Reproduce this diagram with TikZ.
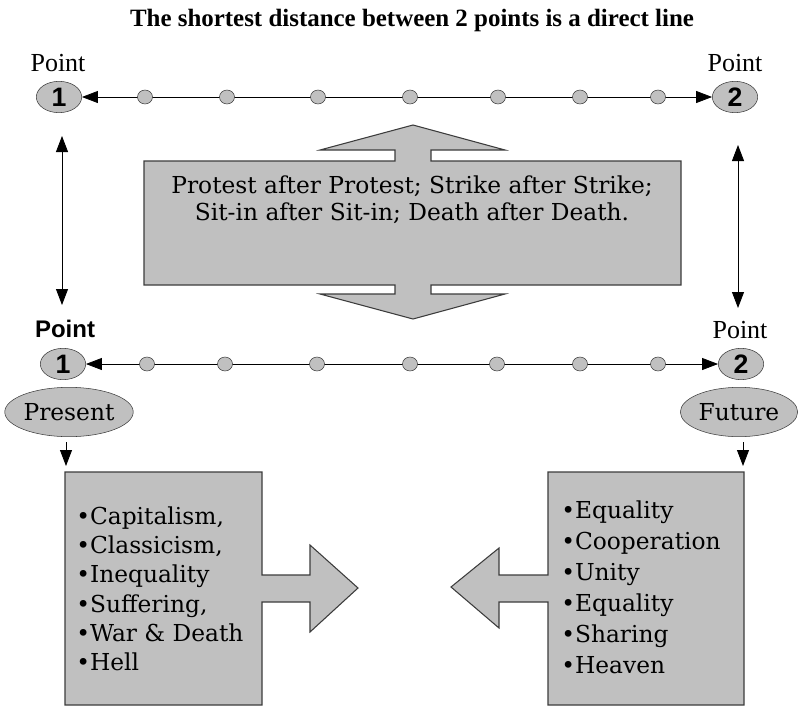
\documentclass[tikz,border=0pt]{standalone}
\usepackage{fontspec}
\setmainfont{Liberation Serif}
\newfontfamily\dvs{DejaVu Serif}
\newfontfamily\arl{Liberation Sans}
\usetikzlibrary{shapes.geometric,arrows.meta}
\definecolor{silv}{RGB}{192,192,192}
\definecolor{edge}{RGB}{60,60,60}
\tikzset{
  pt/.style={ellipse,draw=edge,fill=silv,inner sep=0pt,minimum width=34pt,minimum height=23.5pt,font=\arl\bfseries\fontsize{20}{20}\selectfont},
  dot/.style={ellipse,draw=edge,fill=silv,inner sep=0pt,minimum width=11.25pt,minimum height=10.5pt},
  lab/.style={ellipse,draw=edge,fill=silv,inner sep=0pt,minimum width=91pt,minimum height=37pt,font=\dvs\fontsize{17.5}{17.5}\selectfont},
  ptlab/.style={font=\fontsize{19.5}{19.5}\selectfont},
  ptlabb/.style={font=\arl\bfseries\fontsize{18}{18}\selectfont},
  shp/.style={draw=edge,fill=silv,line width=0.8pt},
  con/.style={line width=0.6pt,{Triangle[length=12pt,width=9pt]}-{Triangle[length=12pt,width=9pt]}},
  onearr/.style={line width=0.6pt,-{Triangle[length=12pt,width=9pt]}},
}
\begin{document}
\begin{tikzpicture}[x=0.75pt,y=-0.75pt]
\useasboundingbox (0,0) rectangle (799,707);
% title
\node[font=\bfseries\fontsize{18.7}{18.7}\selectfont] (title) at (412,21) {The shortest distance between 2 points is a direct line};
% top row
\node[ptlab] (tp1l) at (58,63) {Point};
\node[ptlab] (tp2l) at (735,63) {Point};
\node[pt] (t1) at (59,97) {1};
\node[pt] (t2) at (735,97) {2};
\draw[con] (t1) -- (t2);
\foreach \x [count=\i] in {145,227,318,410,498,580,658}
  \node[dot] (td\i) at (\x,97) {};
% middle double arrow
\draw[shp] (144,161) -- (395,161) -- (395,150) -- (320,150) -- (413,125) -- (505,150) -- (431,150) -- (431,161) -- (681,161) -- (681,285) -- (431,285) -- (431,294) -- (505,294) -- (413,319) -- (320,294) -- (395,294) -- (395,285) -- (144,285) -- cycle;
\node[font=\dvs\fontsize{17.5}{20.25}\selectfont,align=center] (mid) at (412,200) {Protest after Protest; Strike after Strike;\\Sit-in after Sit-in; Death after Death.};
% vertical arrows
\coordinate (va1) at (62,136);
\coordinate (vb1) at (62,305);
\coordinate (va2) at (738,145);
\coordinate (vb2) at (738,308);
\draw[con] (va1) -- (vb1);
\draw[con] (va2) -- (vb2);
% bottom row
\node[ptlabb] (bp1l) at (65,329) {Point};
\node[ptlab] (bp2l) at (740,330) {Point};
\node[pt] (b1) at (63,364) {1};
\node[pt] (b2) at (741,364) {2};
\draw[con] (b1) -- (b2);
\foreach \x [count=\i] in {147,225,317,410,497,580,658}
  \node[dot] (bd\i) at (\x,364) {};
\node[lab] (pres) at (69,412) {Present};
\node[lab,minimum width=88pt] (fut) at (739,412) {Future};
\coordinate (da1) at (66,442);
\coordinate (db1) at (66,466);
\coordinate (da2) at (743,442);
\coordinate (db2) at (743,466);
\draw[onearr] (da1) -- (db1);
\draw[onearr] (da2) -- (db2);
% left box with right arrow
\draw[shp] (65,472) -- (262,472) -- (262,575) -- (310,575) -- (310,545) -- (358,588) -- (310,632) -- (310,602) -- (262,602) -- (262,705) -- (65,705) -- cycle;
\node[font=\dvs\fontsize{17.5}{22}\selectfont,align=left,anchor=north west,inner sep=0pt] (ltxt) at (76,506) {•Capitalism,\\•Classicism,\\•Inequality\\•Suffering,\\•War \& Death\\•Hell};
% right box with left arrow
\draw[shp] (548,472) -- (744,472) -- (744,705) -- (548,705) -- (548,602) -- (499,602) -- (499,628) -- (451,587) -- (499,548) -- (499,575) -- (548,575) -- cycle;
\node[font=\dvs\fontsize{17.5}{23.25}\selectfont,align=left,anchor=north west,inner sep=0pt] (rtxt) at (561,500) {•Equality\\•Cooperation\\•Unity\\•Equality\\•Sharing\\•Heaven};
\end{tikzpicture}
\end{document}
